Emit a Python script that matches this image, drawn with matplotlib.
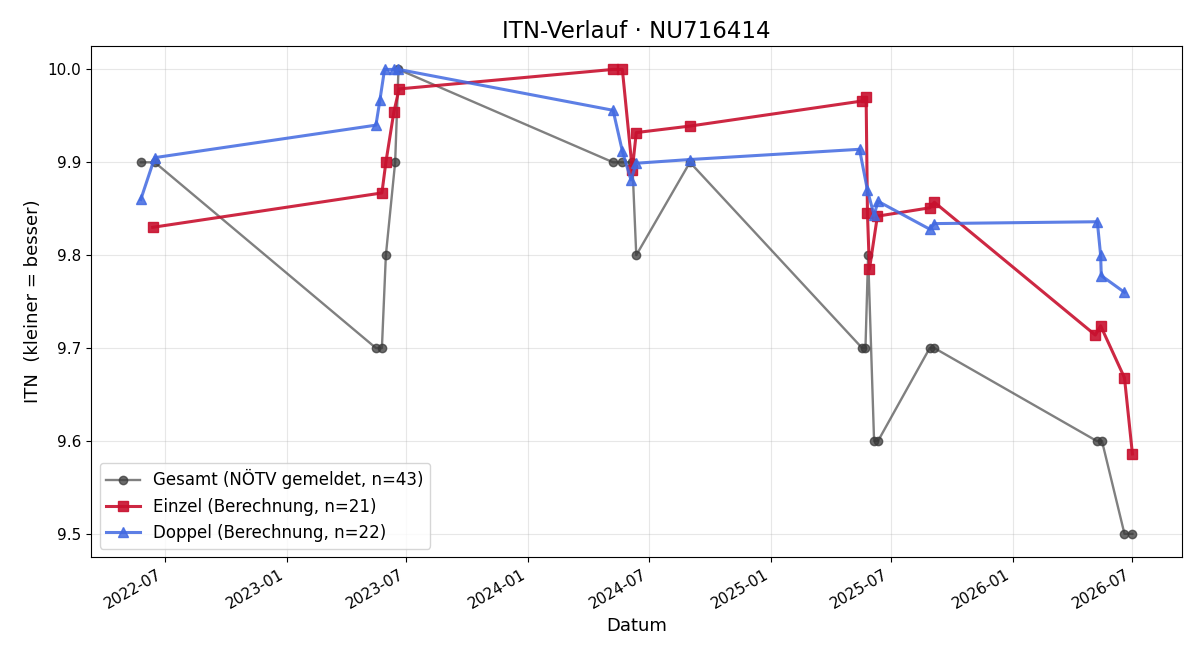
import matplotlib
matplotlib.use("Agg")
import matplotlib.pyplot as plt
import matplotlib.dates as mdates
import pandas as pd

# Gesamt (NÖTV gemeldet)
gesamt_dates = ["2022-05-26", "2022-06-16", "2023-05-16", "2023-05-25", "2023-05-31",
                "2023-06-14", "2023-06-19", "2024-05-08", "2024-05-22", "2024-06-06",
                "2024-06-12", "2024-09-01", "2025-05-19", "2025-05-24", "2025-05-28",
                "2025-06-06", "2025-06-12", "2025-08-29", "2025-09-05", "2026-05-08",
                "2026-05-16", "2026-06-19", "2026-07-01"]
gesamt_itn = [9.9, 9.9, 9.7, 9.7, 9.8,
              9.9, 10.0, 9.9, 9.9, 9.9,
              9.8, 9.9, 9.7, 9.7, 9.8,
              9.6, 9.6, 9.7, 9.7, 9.6,
              9.6, 9.5, 9.5]

# Einzel (Berechnung)
einzel_dates = ["2022-06-13", "2023-05-25", "2023-05-31", "2023-06-12", "2023-06-20",
                "2024-05-08", "2024-05-22", "2024-06-06", "2024-06-12", "2024-09-01",
                "2025-05-19", "2025-05-25", "2025-05-27", "2025-05-30", "2025-06-11",
                "2025-08-29", "2025-09-05", "2026-05-06", "2026-05-14", "2026-06-19",
                "2026-07-01"]
einzel_itn = [9.830, 9.867, 9.900, 9.954, 9.979,
              10.000, 10.000, 9.892, 9.932, 9.939,
              9.966, 9.970, 9.845, 9.785, 9.842,
              9.851, 9.857, 9.714, 9.724, 9.668,
              9.586]

# Doppel (Berechnung)
doppel_dates = ["2022-05-26", "2022-06-16", "2023-05-16", "2023-05-22", "2023-05-29",
                "2023-06-12", "2023-06-19", "2024-05-08", "2024-05-22", "2024-06-04",
                "2024-06-12", "2024-09-01", "2025-05-15", "2025-05-27", "2025-06-06",
                "2025-06-12", "2025-08-29", "2025-09-05", "2026-05-09", "2026-05-14",
                "2026-05-15", "2026-06-19"]
doppel_itn = [9.860, 9.905, 9.940, 9.967, 10.000,
              10.000, 10.000, 9.956, 9.912, 9.881,
              9.899, 9.903, 9.914, 9.870, 9.843,
              9.858, 9.828, 9.834, 9.836, 9.800,
              9.778, 9.760]

fig, ax = plt.subplots(figsize=(12, 6.6), dpi=100)

ax.plot(pd.to_datetime(gesamt_dates), gesamt_itn, color="#555555", alpha=0.75,
        marker="o", markersize=6, markerfacecolor="#3a3a3a", markeredgecolor="#3a3a3a",
        linewidth=1.7, label="Gesamt (NÖTV gemeldet, n=43)")
ax.plot(pd.to_datetime(einzel_dates), einzel_itn, color="#c8102e", alpha=0.9,
        marker="s", markersize=7, linewidth=2.2,
        label="Einzel (Berechnung, n=21)")
ax.plot(pd.to_datetime(doppel_dates), doppel_itn, color="#4169e1", alpha=0.85,
        marker="^", markersize=7, linewidth=2.2,
        label="Doppel (Berechnung, n=22)")

ax.set_title("ITN-Verlauf · NU716414", fontsize=16.5)
ax.set_xlabel("Datum", fontsize=13)
ax.set_ylabel("ITN  (kleiner = besser)", fontsize=13)
ax.grid(True, alpha=0.3)
ax.xaxis.set_major_locator(mdates.MonthLocator(bymonth=[1, 7]))
ax.xaxis.set_major_formatter(mdates.DateFormatter("%Y-%m"))
ax.tick_params(labelsize=11)
ax.legend(loc="lower left", fontsize=12)
fig.autofmt_xdate()

fig.subplots_adjust(left=0.076, right=0.985, top=0.93, bottom=0.156)
fig.savefig("out.png")
